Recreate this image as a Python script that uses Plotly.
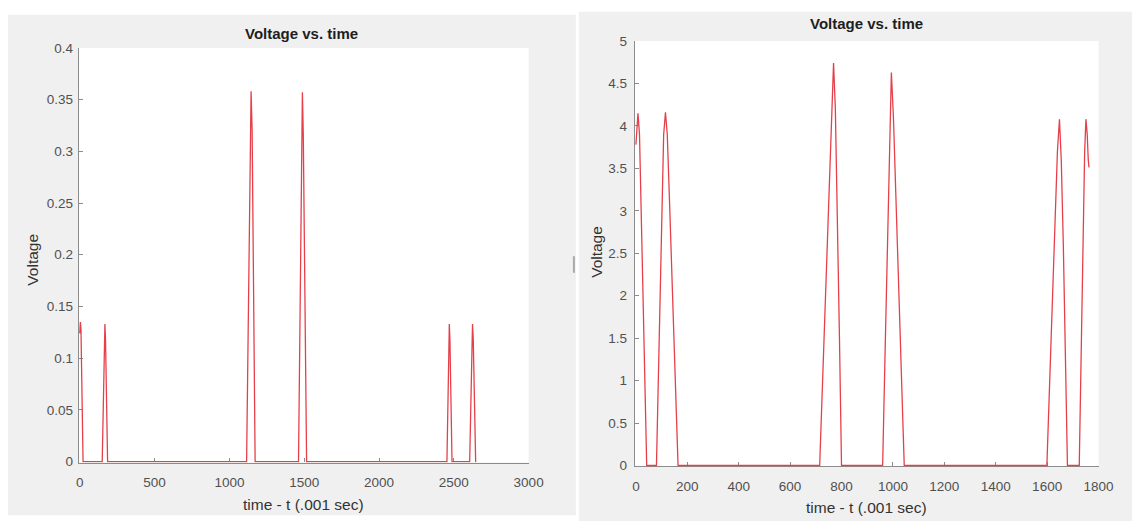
import plotly.graph_objects as go

# ---- data: first run (0-3000 ms) ----
time_a = [0, 4, 8, 14, 22,
          150, 158, 164, 168, 172, 178, 186,
          1115, 1128, 1138, 1145, 1152, 1162, 1172,
          1462, 1474, 1482, 1488, 1494, 1504, 1516,
          2454, 2461, 2466, 2470, 2474, 2480, 2488,
          2606, 2614, 2620, 2625, 2630, 2637, 2646,
          2650]
volt_a = [0.124, 0.135, 0.128, 0.075, 0,
          0, 0.06, 0.115, 0.133, 0.118, 0.065, 0,
          0, 0.16, 0.31, 0.358, 0.32, 0.17, 0,
          0, 0.16, 0.31, 0.357, 0.315, 0.16, 0,
          0, 0.06, 0.115, 0.133, 0.118, 0.06, 0,
          0, 0.06, 0.115, 0.133, 0.118, 0.06, 0,
          0]

# ---- data: second run (0-1800 ms) ----
time_b = [0, 4, 8, 14, 24, 34, 42,
          80, 92, 100, 108, 115, 122, 132, 148, 164,
          715, 732, 746, 758, 769, 776, 784, 792, 800,
          960, 970, 980, 988, 994, 1002, 1014, 1028, 1044,
          1599, 1614, 1628, 1640, 1648, 1655, 1663, 1671, 1679,
          1725, 1733, 1740, 1746, 1751, 1756, 1760, 1763]
volt_b = [3.78, 4.05, 4.15, 3.9, 2.5, 1.2, 0,
          0, 1.6, 2.9, 3.9, 4.16, 3.9, 3.0, 1.5, 0,
          0, 1.5, 2.8, 4.0, 4.74, 4.2, 3.0, 1.5, 0,
          0, 1.4, 2.9, 4.0, 4.63, 4.1, 3.0, 1.5, 0,
          0, 1.4, 2.7, 3.7, 4.08, 3.6, 2.6, 1.3, 0,
          0, 1.5, 2.8, 3.7, 4.08, 3.9, 3.6, 3.51]

# ---- tick labels ----
xticks_a = [0, 500, 1000, 1500, 2000, 2500, 3000]
xtext_a = ["0", "500", "1000", "1500", "2000", "2500", "3000"]
yticks_a = [0, 0.05, 0.1, 0.15, 0.2, 0.25, 0.3, 0.35, 0.4]
ytext_a = ["0", "0.05", "0.1", "0.15", "0.2", "0.25", "0.3", "0.35", "0.4"]
xticks_b = [0, 200, 400, 600, 800, 1000, 1200, 1400, 1600, 1800]
xtext_b = ["0", "200", "400", "600", "800", "1000", "1200", "1400", "1600", "1800"]
yticks_b = [0, 0.5, 1, 1.5, 2, 2.5, 3, 3.5, 4, 4.5, 5]
ytext_b = ["0", "0.5", "1", "1.5", "2", "2.5", "3", "3.5", "4", "4.5", "5"]

W, H = 1147, 528
FONT = "Liberation Sans, Arial, Helvetica, sans-serif"
LINE = "#e5404a"
AXIS = "#8c8c8c"
TICKFONT = dict(family=FONT, size=13.5, color="#505050")


def px(x):
    return x / W


def py(y):
    return 1 - y / H


# plot-area boxes in pixels: (left, top, right, bottom)
box_a = (77, 42, 534, 468)
box_b = (642, 35, 1113, 472)

fig = go.Figure()
fig.add_trace(go.Scatter(x=time_a, y=volt_a, mode="lines", xaxis="x", yaxis="y",
                         line=dict(color=LINE, width=1.3), showlegend=False,
                         hoverinfo="skip"))
fig.add_trace(go.Scatter(x=time_b, y=volt_b, mode="lines", xaxis="x2", yaxis="y2",
                         line=dict(color=LINE, width=1.3), showlegend=False,
                         hoverinfo="skip"))


def axis(domain, rng, vals, text, anchor):
    return dict(domain=domain, range=rng, tickmode="array", tickvals=vals,
                ticktext=text, anchor=anchor, showgrid=False, zeroline=False,
                showline=True, linecolor=AXIS, linewidth=1.3, ticks="inside",
                ticklen=4, tickcolor=AXIS, tickwidth=1, tickfont=TICKFONT,
                layer="below traces", fixedrange=True)


# ranges start one pixel below zero so the zero-level trace is not clipped
xa = axis([px(box_a[0]), px(box_a[2])], [-3000 / 457, 3000], xticks_a, xtext_a, "y")
ya = axis([py(box_a[3]), py(box_a[1])], [-0.4 / 426, 0.4], yticks_a, ytext_a, "x")
xb = axis([px(box_b[0]), px(box_b[2])], [-1800 / 471, 1800], xticks_b, xtext_b, "y2")
yb = axis([py(box_b[3]), py(box_b[1])], [-5 / 437, 5], yticks_b, ytext_b, "x2")
xa["ticklabelstandoff"] = 7
xb["ticklabelstandoff"] = 7
ya["ticklabelstandoff"] = 2
yb["ticklabelstandoff"] = 4

# figure panels (grey) and white axes areas
shapes = [
    dict(type="rect", xref="paper", yref="paper", x0=px(5), x1=px(582),
         y0=py(522), y1=py(8), fillcolor="#f0f0f0", line=dict(width=0), layer="below"),
    dict(type="rect", xref="paper", yref="paper", x0=px(585), x1=px(1147),
         y0=py(528), y1=py(5), fillcolor="#f0f0f0", line=dict(width=0), layer="below"),
    dict(type="rect", xref="paper", yref="paper", x0=px(box_a[0]), x1=px(box_a[2]),
         y0=py(box_a[3]), y1=py(box_a[1]), fillcolor="white", line=dict(width=0),
         layer="below"),
    dict(type="rect", xref="paper", yref="paper", x0=px(box_b[0]), x1=px(box_b[2]),
         y0=py(box_b[3]), y1=py(box_b[1]), fillcolor="white", line=dict(width=0),
         layer="below"),
    dict(type="rect", xref="paper", yref="paper", x0=px(579), x1=px(581),
         y0=py(273), y1=py(256), fillcolor="#a8a8a8", line=dict(width=0), layer="below"),
]


def label(text, x, y, size=15.5, bold=False, angle=0, color="#333333"):
    return dict(text=f"<b>{text}</b>" if bold else text, x=px(x), y=py(y),
                xref="paper", yref="paper", showarrow=False, textangle=angle,
                xanchor="center", yanchor="middle",
                font=dict(family=FONT, size=size, color=color))


annotations = [
    label("Voltage vs. time", 303, 27, size=15, bold=True, color="#1e1e1e"),
    label("Voltage vs. time", 877, 17, size=15, bold=True, color="#1e1e1e"),
    label("Voltage", 30, 260, angle=-90),
    label("Voltage", 603, 252, angle=-90),
    label("time - t (.001 sec)", 305, 511),
    label("time - t (.001 sec)", 877, 514),
]

fig.update_layout(
    width=W, height=H, margin=dict(l=0, r=0, t=0, b=0),
    paper_bgcolor="white", plot_bgcolor="rgba(0,0,0,0)",
    xaxis=xa, yaxis=ya, xaxis2=xb, yaxis2=yb,
    shapes=shapes, annotations=annotations,
)

fig.write_html("out.html")
